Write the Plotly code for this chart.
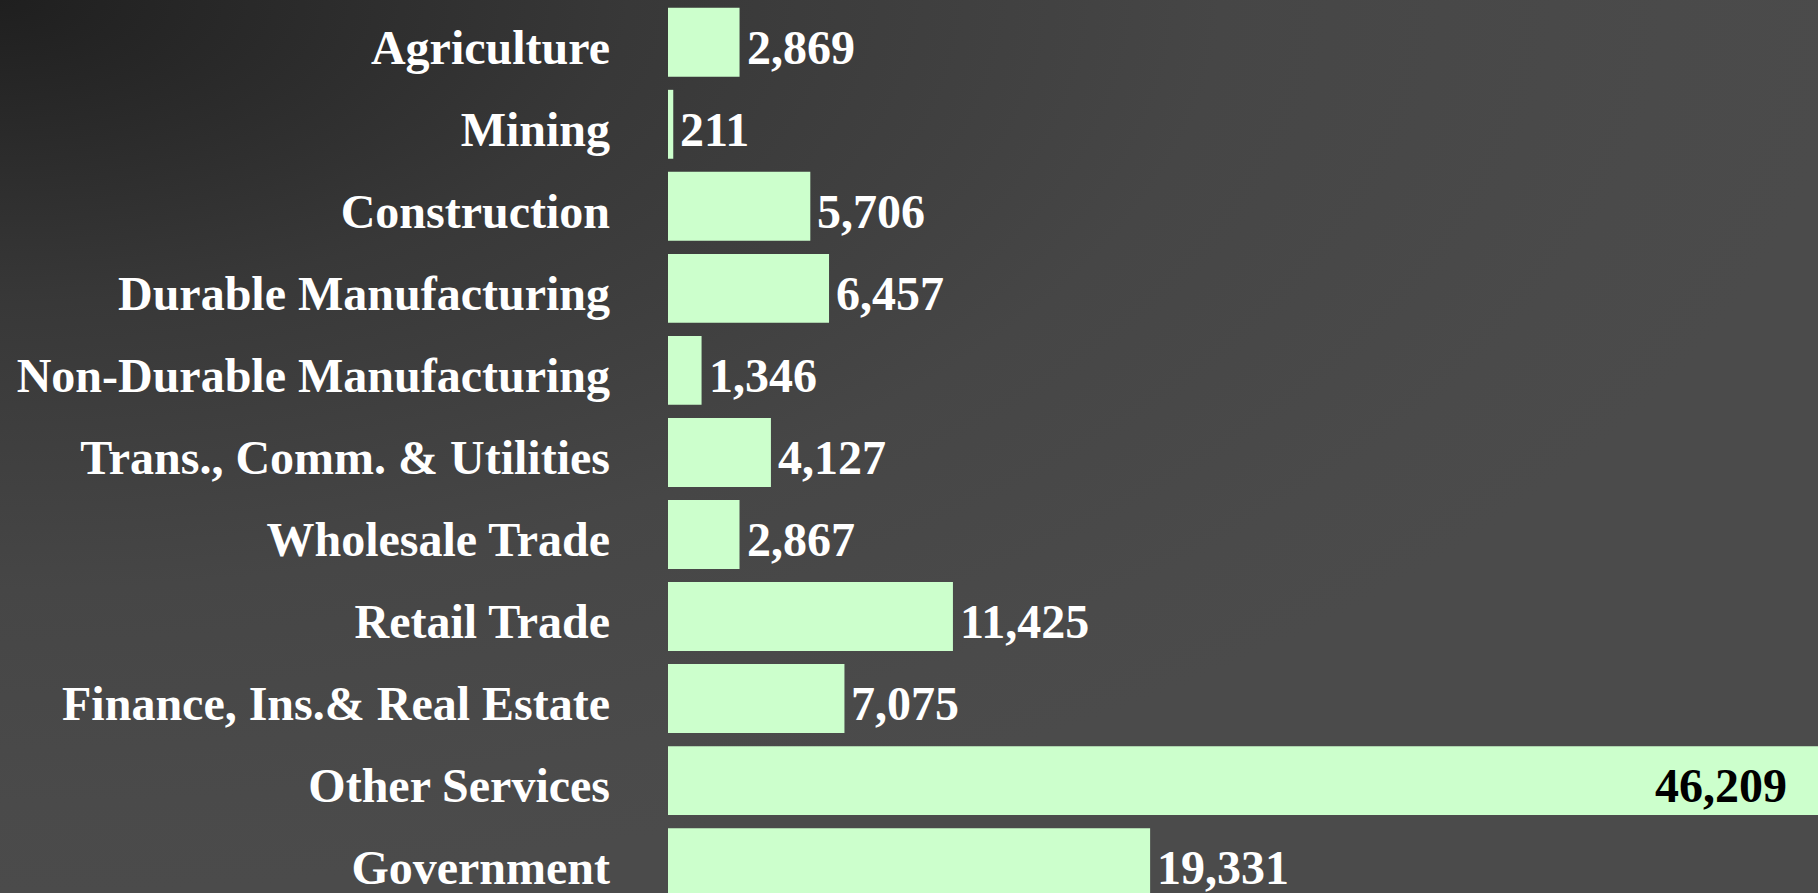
import plotly.graph_objects as go

# Employment by industry (bars, top to bottom)
setores = ["Agriculture", "Mining", "Construction", "Durable Manufacturing",
           "Non-Durable Manufacturing", "Trans., Comm. & Utilities",
           "Wholesale Trade", "Retail Trade", "Finance, Ins.& Real Estate",
           "Other Services", "Government"]
empregos = [2869, 211, 5706, 6457, 1346, 4127, 2867, 11425, 7075, 46209, 19331]
rotulo_dentro = "Other Services"

fonte = "Liberation Serif, Times New Roman, serif"
largura = 1850  # a figura passa um pouco da janela, como a barra maior

fig = go.Figure()

# fundo em degradê radial a partir do canto superior esquerdo
fig.add_trace(go.Scatter(
    x=[-1, 1, 1, -1, -1], y=[0, 0, 2, 2, 0],
    mode="lines", fill="toself", line=dict(width=0),
    fillgradient=dict(type="radial", colorscale=[
        [0.0, "#1f1f1f"], [0.34, "#383838"], [0.66, "#464646"],
        [0.9, "#4a4a4a"], [1.0, "#4b4b4b"]]),
    hoverinfo="skip", showlegend=False, xaxis="x", yaxis="y"))

fig.add_trace(go.Bar(
    y=setores, x=empregos, orientation="h",
    marker=dict(color="#ccffcc", line=dict(width=0)),
    cliponaxis=False, showlegend=False, xaxis="x2", yaxis="y2"))

# rótulos de valor
for s, v in zip(setores, empregos):
    dentro = s == rotulo_dentro
    fig.add_annotation(
        x=v, y=s, xref="x2", yref="y2", text=f"{v:,}", showarrow=False,
        xanchor="right" if dentro else "left",
        xshift=-31 if dentro else 5, yshift=-5,
        font=dict(family=fonte, size=48, weight="bold",
                  color="black" if dentro else "white"))

fig.update_layout(
    width=largura, height=893,
    margin=dict(l=0, r=0, t=0, b=0),
    paper_bgcolor="#4a4a4a", plot_bgcolor="rgba(0,0,0,0)",
    font=dict(family=fonte, size=48, color="white"),
    bargap=0.16,
    xaxis=dict(domain=[0, 1], range=[0, 1], visible=False, fixedrange=True),
    yaxis=dict(domain=[0, 1], range=[0, 1], visible=False, fixedrange=True),
    xaxis2=dict(domain=[668 / largura, 1], range=[0, 47393], anchor="y2",
                visible=False),
    yaxis2=dict(domain=[0, 1], anchor="x2", type="category",
                categoryorder="array", categoryarray=setores,
                range=[10.37, -0.515], showgrid=False, zeroline=False,
                showline=False, ticks="", ticklabelstandoff=57,
                ticklabelshift=-5,
                tickfont=dict(family=fonte, size=48, color="white",
                              weight="bold")),
)

fig.write_html("out.html", config={"displayModeBar": False},
               post_script="document.body.style.margin='0';"
                           "document.body.style.overflow='hidden';")
